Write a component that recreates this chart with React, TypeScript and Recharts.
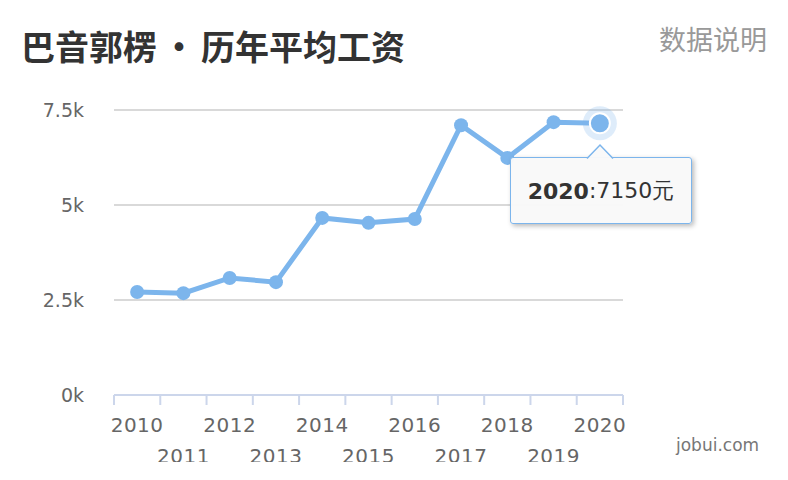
import React from "react"
import {
  CartesianGrid,
  Line,
  LineChart,
  Tooltip,
  XAxis,
  YAxis,
} from "recharts"

const years = ["2010", "2011", "2012", "2013", "2014", "2015", "2016", "2017", "2018", "2019", "2020"]
const wages = [2710, 2680, 3080, 2970, 4660, 4530, 4630, 7100, 6240, 7180, 7150]
const yTicks = [0, 2500, 5000, 7500]
const yTickLabels = ["0k", "2.5k", "5k", "7.5k"]

const data = years.map((year, i) => ({ idx: i, year, wage: wages[i] }))
const centers = years.map((_, i) => i)

const BLUE = "#7cb5ec"
const AXIS = "#ccd6eb"
const TICK_FONT = "'DejaVu Sans', Verdana, sans-serif"

// label + band-edge tick marks (Highcharts style: ticks between categories)
function YearTick(props: any) {
  const { x, y, payload, width } = props
  const i = payload.value as number
  const odd = i % 2 === 1
  const half = width / years.length / 2
  const last = i === years.length - 1
  return (
    <g>
      <line x1={x - half} x2={x - half} y1={y} y2={y + 10} stroke={AXIS} strokeWidth={2} />
      {last && <line x1={x + half} x2={x + half} y1={y} y2={y + 10} stroke={AXIS} strokeWidth={2} />}
      <text
        x={x}
        y={y + (odd ? 68 : 37)}
        textAnchor="middle"
        fill="#666"
        fontSize={20}
        letterSpacing={0.5}
        fontFamily={TICK_FONT}
      >
        {years[i]}
      </text>
    </g>
  )
}

function TipBox({ active, payload }: any) {
  if (!active || !payload?.length) return null
  const p = payload[0].payload
  return (
    <div style={{ position: "relative", width: 182, paddingTop: 13 }}>
      <div
        style={{
          position: "relative",
          boxSizing: "border-box",
          height: 67,
          background: "rgba(249,249,249,0.97)",
          border: `1.5px solid ${BLUE}`,
          borderRadius: 3,
          boxShadow: "2px 2px 5px rgba(0,0,0,0.28)",
          display: "flex",
          alignItems: "center",
          justifyContent: "center",
          fontFamily: TICK_FONT,
          fontSize: 22,
          color: "#333",
          paddingTop: 1,
        }}
      >
        <span style={{ fontWeight: "bold" }}>{p.year}</span>
        <span>:{p.wage}元</span>
      </div>
      <svg
        width={26}
        height={14}
        style={{ position: "absolute", left: 77, top: 0, overflow: "visible" }}
      >
        <path d="M0,14.5 L13,1 L26,14.5" fill="rgba(249,249,249,0.97)" stroke={BLUE} strokeWidth={1.5} />
      </svg>
    </div>
  )
}

function ActiveDot(props: any) {
  const { cx, cy } = props
  return (
    <g>
      <circle cx={cx} cy={cy} r={17} fill={BLUE} fillOpacity={0.25} />
      <circle cx={cx} cy={cy} r={10} fill={BLUE} stroke="#fff" strokeWidth={2} />
    </g>
  )
}

export default function App() {
  return (
    <div
      style={{
        position: "fixed",
        left: 0,
        top: 0,
        width: 788,
        height: 480,
        background: "#fff",
        overflow: "hidden",
      }}
    >
      <div
        style={{
          position: "absolute",
          left: 21,
          top: 24,
          fontFamily: "'Noto Sans CJK SC', sans-serif",
          fontWeight: "bold",
          fontSize: 34,
          color: "#333",
          whiteSpace: "nowrap",
          lineHeight: "44px",
        }}
      >
        巴音郭楞<span style={{ margin: "0 5px" }}>•</span>历年平均工资
      </div>
      <div
        style={{
          position: "absolute",
          right: 21,
          top: 20,
          fontFamily: "'Noto Sans CJK SC', sans-serif",
          fontSize: 27,
          color: "#999",
          lineHeight: "38px",
        }}
      >
        数据说明
      </div>
      <div
        style={{
          position: "absolute",
          left: 676,
          top: 433,
          fontFamily: TICK_FONT,
          fontSize: 17,
          color: "#777",
          lineHeight: "24px",
        }}
      >
        jobui.com
      </div>
      <div style={{ position: "absolute", left: 0, top: 0, width: 788, height: 462, overflow: "hidden" }}>
        <LineChart
          width={788}
          height={465}
          data={data}
          margin={{ top: 110, right: 165, bottom: 0, left: 0 }}
        >
          <CartesianGrid vertical={false} stroke="#ccc" strokeWidth={1.5} />
          <XAxis
            type="number"
            dataKey="idx"
            domain={[-0.5, years.length - 0.5]}
            ticks={centers}
            interval={0}
            axisLine={{ stroke: AXIS, strokeWidth: 2 }}
            tickLine={false}
            tickSize={0}
            tickMargin={0}
            height={70}
            tick={<YearTick />}
          />
          <YAxis
            width={114}
            domain={[0, 7500]}
            ticks={yTicks}
            axisLine={false}
            tickLine={false}
            tickSize={0}
            tickMargin={30}
            tickFormatter={(v: number) => yTickLabels[yTicks.indexOf(v)]}
            tick={{ fill: "#666", fontSize: 19, fontFamily: TICK_FONT }}
          />
          <Tooltip
            defaultIndex={10}
            active
            cursor={false}
            position={{ x: 510, y: 144 }}
            allowEscapeViewBox={{ x: true, y: true }}
            wrapperStyle={{ outline: "none" }}
            content={<TipBox />}
            isAnimationActive={false}
          />
          <Line
            type="linear"
            dataKey="wage"
            stroke={BLUE}
            strokeWidth={5}
            dot={{ r: 7, fill: BLUE, stroke: BLUE, strokeWidth: 0 }}
            activeDot={<ActiveDot />}
            isAnimationActive={false}
          />
        </LineChart>
      </div>
    </div>
  )
}
